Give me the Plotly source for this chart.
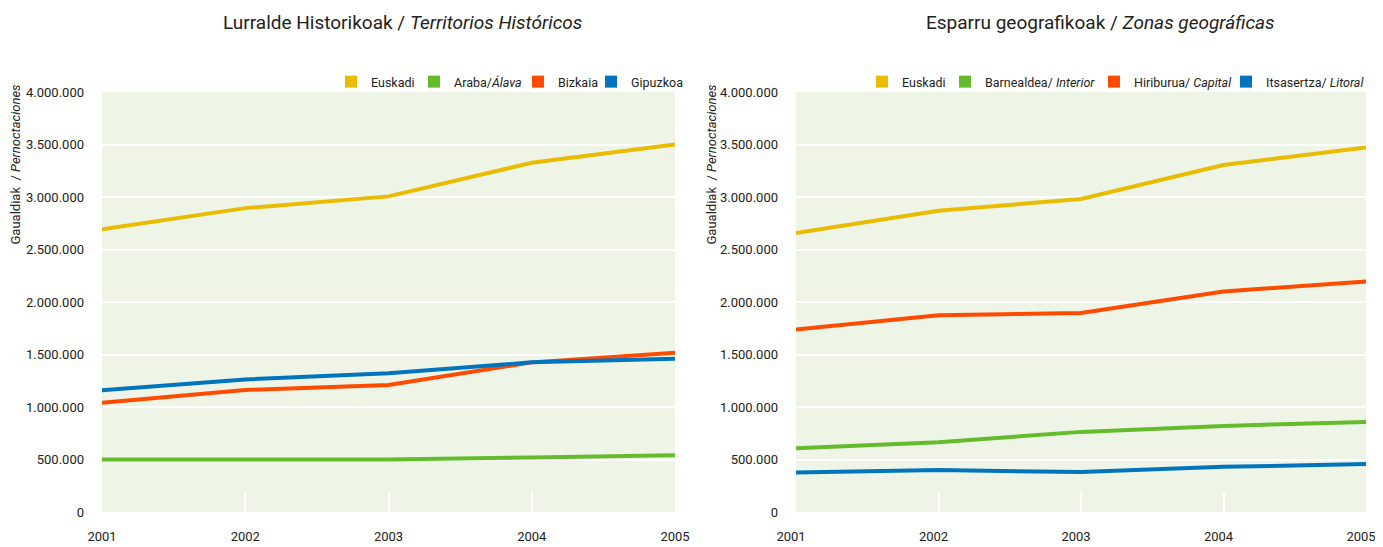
import plotly.graph_objects as go

years = [2001, 2002, 2003, 2004, 2005]

# Left: Lurralde Historikoak / Territorios Históricos
left_names = ["Euskadi", "Araba/<i>Álava</i>", "Bizkaia", "Gipuzkoa"]
euskadi_l = [2693000, 2894000, 3006000, 3326000, 3500000]
araba = [500000, 500000, 501000, 520000, 540000]
bizkaia = [1041000, 1162000, 1209000, 1425000, 1516000]
gipuzkoa = [1159000, 1262000, 1322000, 1425000, 1459000]

# Right: Esparru geografikoak / Zonas geográficas
right_names = ["Euskadi", "Barnealdea/ <i>Interior</i>", "Hiriburua/ <i>Capital</i>", "Itsasertza/ <i>Litoral</i>"]
euskadi_r = [2658000, 2870000, 2981000, 3304000, 3472000]
interior = [608000, 665000, 763000, 820000, 858000]
capital = [1739000, 1874000, 1896000, 2100000, 2195000]
litoral = [377000, 399000, 380000, 430000, 456000]

y_ticks = [0, 500000, 1000000, 1500000, 2000000, 2500000, 3000000, 3500000, 4000000]
y_ticktext = ["0", "500.000", "1.000.000", "1.500.000", "2.000.000", "2.500.000",
              "3.000.000", "3.500.000", "4.000.000"]

colors = ["#E9BC00", "#64BC2C", "#FF4B00", "#0075BE"]
FONT = "Roboto, Liberation Sans, sans-serif"
BG = "#EEF5E6"

# page body has an 8px margin; figure fills the rest of the 1383x547 window
OFF = 8
W, H = 1383 - OFF, 547 - OFF


def px(x):
    return (x - OFF) / W


def py(y):
    return 1 - (y - OFF) / H


fig = go.Figure()

left_series = [euskadi_l, araba, bizkaia, gipuzkoa]
right_series = [euskadi_r, interior, capital, litoral]

for vals, name, col in zip(left_series, left_names, colors):
    fig.add_trace(go.Scatter(x=years, y=vals, mode="lines", name=name,
                             line=dict(color=col, width=4), showlegend=False,
                             xaxis="x", yaxis="y"))
for vals, name, col in zip(right_series, right_names, colors):
    fig.add_trace(go.Scatter(x=years, y=vals, mode="lines", name=name,
                             line=dict(color=col, width=4), showlegend=False,
                             xaxis="x2", yaxis="y2"))

# legend swatch positions (square centres, px) for each entry
legend_x_left = [351, 434, 538, 611]
legend_x_right = [882, 965, 1114, 1246]
legend_y = 82

legends = {}
k = 1
for names, xs, ax in ((left_names, legend_x_left, ("x", "y")),
                      (right_names, legend_x_right, ("x2", "y2"))):
    for name, col, xc in zip(names, colors, xs):
        lname = "legend" if k == 1 else f"legend{k}"
        fig.add_trace(go.Scatter(x=[None], y=[None], mode="markers", name=name,
                                 marker=dict(symbol="square", size=12, color=col),
                                 legend=lname, xaxis=ax[0], yaxis=ax[1]))
        legends[lname] = dict(orientation="h", x=px(xc - 20), xanchor="left",
                              y=py(legend_y), yanchor="middle",
                              font=dict(family=FONT, size=12.5, color="#222"),
                              itemwidth=30, bgcolor="rgba(0,0,0,0)", borderwidth=0)
        k += 1

ytop = py(92)
ybot = py(512)
dom_l = [px(102), px(675)]
dom_r = [px(796), px(1366)]

xaxis_common = dict(range=[2001, 2005], tickvals=years, ticks="inside", ticklen=20,
                    tickcolor="white", tickwidth=2, showgrid=False, zeroline=False,
                    showline=False, tickfont=dict(family=FONT, size=13, color="#222"),
                    ticklabelstandoff=15, ticklabeloverflow="allow",
                    fixedrange=True, automargin=False)
yaxis_common = dict(range=[0, 4000000], tickvals=y_ticks, ticktext=y_ticktext,
                    showgrid=True, gridcolor="white", gridwidth=2, zeroline=False,
                    showline=False, ticks="", tickfont=dict(family=FONT, size=13, color="#222"),
                    ticklabelstandoff=17, fixedrange=True, automargin=False)

fig.update_layout(
    width=W, height=H,
    margin=dict(l=0, r=0, t=0, b=0, autoexpand=False),
    paper_bgcolor="white",
    plot_bgcolor=BG,
    font=dict(family=FONT, color="#222"),
    xaxis=dict(domain=dom_l, anchor="y", **xaxis_common),
    yaxis=dict(domain=[ybot, ytop], anchor="x", **yaxis_common),
    xaxis2=dict(domain=dom_r, anchor="y2", ticklabelshift=-5, **xaxis_common),
    yaxis2=dict(domain=[ybot, ytop], anchor="x2", **yaxis_common),
    annotations=[
        dict(text="Lurralde Historikoak / <i>Territorios Históricos</i>", x=px(402), y=py(22),
             xref="paper", yref="paper", xanchor="center", yanchor="middle", showarrow=False,
             font=dict(family=FONT, size=19, color="#222")),
        dict(text="Esparru geografikoak / <i>Zonas geográficas</i>", x=px(1100), y=py(22),
             xref="paper", yref="paper", xanchor="center", yanchor="middle", showarrow=False,
             font=dict(family=FONT, size=19, color="#222")),
        dict(text="Gaualdiak  / <i>Pernoctaciones</i>", x=px(15), y=py(82), textangle=-90,
             xref="paper", yref="paper", xanchor="center", yanchor="top", showarrow=False,
             font=dict(family=FONT, size=13, color="#222")),
        dict(text="Gaualdiak  / <i>Pernoctaciones</i>", x=px(711), y=py(82), textangle=-90,
             xref="paper", yref="paper", xanchor="center", yanchor="top", showarrow=False,
             font=dict(family=FONT, size=13, color="#222")),
    ],
    **legends,
)

fig.write_html("out.html")
